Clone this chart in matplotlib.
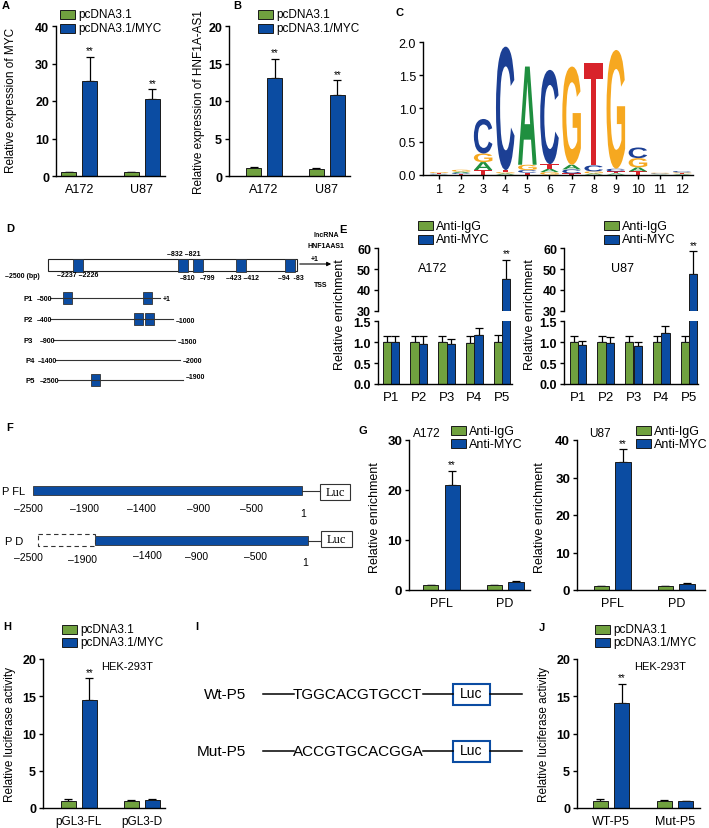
import matplotlib
matplotlib.use('Agg')
import matplotlib.pyplot as plt
import matplotlib.transforms as mtransforms
import numpy as np
from matplotlib.patches import Rectangle, PathPatch
from matplotlib.textpath import TextPath
from matplotlib.font_manager import FontProperties

plt.rcParams['font.family'] = ['Liberation Sans', 'DejaVu Sans']

W, H = 709, 829
GREEN = '#70a13f'
BLUE = '#0b4ca2'

# ---- data ----
cells = ['A172', 'U87']
myc_ctrl = [1.0, 1.0]
myc_ctrl_err = [0.15, 0.12]
myc_oe = [25.3, 20.6]
myc_oe_err = [6.5, 2.5]

hnf_ctrl = [1.05, 1.0]
hnf_ctrl_err = [0.15, 0.12]
hnf_oe = [13.1, 10.8]
hnf_oe_err = [2.55, 2.0]

logo_pos = list(range(1, 13))
logo_A = [0.005, 0.02, 0.12, 0.02, 1.48, 0.05, 0.07, 0.02, 0.02, 0.06, 0.005, 0.01]
logo_C = [0.01, 0.015, 0.52, 1.86, 0.04, 1.42, 0.06, 0.09, 0.04, 0.16, 0.01, 0.02]
logo_G = [0.015, 0.03, 0.13, 0.02, 0.08, 0.04, 1.48, 0.03, 1.79, 0.14, 0.01, 0.015]
logo_T = [0.01, 0.01, 0.07, 0.03, 0.03, 0.07, 0.02, 1.55, 0.03, 0.05, 0.005, 0.01]

promoters = ['P1', 'P2', 'P3', 'P4', 'P5']
a172_igg = [1.0, 1.0, 1.0, 0.98, 1.0]
a172_igg_err = [0.14, 0.16, 0.14, 0.16, 0.18]
a172_myc = [1.0, 0.96, 0.95, 1.18, 45.2]
a172_myc_err = [0.15, 0.18, 0.13, 0.17, 9.2]
u87_igg = [1.0, 1.0, 1.0, 1.0, 1.0]
u87_igg_err = [0.14, 0.14, 0.14, 0.14, 0.14]
u87_myc = [0.93, 0.98, 0.91, 1.23, 47.6]
u87_myc_err = [0.11, 0.14, 0.1, 0.15, 10.9]

constructs = ['PFL', 'PD']
g_a172_igg = [1.0, 1.0]
g_a172_igg_err = [0.1, 0.08]
g_a172_myc = [21.1, 1.6]
g_a172_myc_err = [2.8, 0.15]
g_u87_igg = [1.0, 1.0]
g_u87_igg_err = [0.12, 0.1]
g_u87_myc = [34.2, 1.6]
g_u87_myc_err = [3.4, 0.2]

reporters_h = ['pGL3-FL', 'pGL3-D']
h_ctrl = [1.0, 1.0]
h_ctrl_err = [0.2, 0.08]
h_myc = [14.5, 1.1]
h_myc_err = [2.9, 0.12]

reporters_j = ['WT-P5', 'Mut-P5']
j_ctrl = [1.0, 1.0]
j_ctrl_err = [0.15, 0.08]
j_myc = [14.05, 0.9]
j_myc_err = [2.6, 0.06]

fig = plt.figure(figsize=(W / 100, H / 100), dpi=100)


def px_axes(x0, y0, x1, y1):
    # pixel box, y measured from the top
    return fig.add_axes([x0 / W, 1 - y1 / H, (x1 - x0) / W, (y1 - y0) / H])


def style(ax, bottom=True):
    for s in ['top', 'right']:
        ax.spines[s].set_visible(False)
    ax.spines['left'].set_linewidth(1.0)
    ax.spines['bottom'].set_linewidth(1.0)
    if not bottom:
        ax.spines['bottom'].set_visible(False)
    ax.tick_params(axis='y', direction='out', length=3, width=1.0, pad=2)
    ax.tick_params(axis='x', length=0, pad=5)
    ax.patch.set_visible(False)


def bars(ax, cats, g, ge, b, be, xlim, ylim, yticks, ylabels=None, width=0.24, off=0.168,
         stars=(), tick_fs=9, cat_fs=9, show_x=True):
    x = np.arange(len(cats))
    n = len(cats)
    ax.bar(x - off, g, width, color=GREEN, edgecolor='#1a1a1a', lw=0.7, zorder=2)
    ax.bar(x + off, b, width, color=BLUE, edgecolor='#1a1a1a', lw=0.7, zorder=2)
    ax.errorbar(x - off, g, yerr=[np.zeros(n), ge], fmt='none', ecolor='black',
                elinewidth=0.9, capsize=3, capthick=0.9, zorder=1)
    ax.errorbar(x + off, b, yerr=[np.zeros(n), be], fmt='none', ecolor='black',
                elinewidth=0.9, capsize=3, capthick=0.9, zorder=1)
    for i in stars:
        ax.annotate('**', (x[i] + off, b[i] + be[i]), xytext=(0, 1), textcoords='offset points',
                    ha='center', va='bottom', fontsize=7)
    ax.set_xlim(*xlim)
    ax.set_ylim(*ylim)
    ax.set_yticks(yticks)
    ax.set_yticklabels(ylabels if ylabels else [str(t) for t in yticks], fontsize=tick_fs,
                       fontweight='bold')
    if show_x:
        ax.set_xticks(x)
        ax.set_xticklabels(cats, fontsize=cat_fs)
    else:
        ax.set_xticks([])


ov = fig.add_axes([0, 0, 1, 1], zorder=10)
ov.set_xlim(0, W)
ov.set_ylim(H, 0)
ov.axis('off')


def txt(x, y, s, fs=8, **kw):
    ov.text(x, y, s, fontsize=fs, va='center', **kw)


def legend(x, y, labels, dy=14, fs=8.5):
    for k, (lab, col) in enumerate(zip(labels, [GREEN, BLUE])):
        ov.add_patch(Rectangle((x, y + k * dy - 4.5), 15, 9, facecolor=col, edgecolor='#1a1a1a', lw=0.7))
        txt(x + 18, y + k * dy, lab, fs=fs)


def ylab(x, y, s, fs=8.5):
    ov.text(x, y, s, fontsize=fs, rotation=90, ha='center', va='center')


# panel letters
for lab, x, y in [('A', 6, 6), ('B', 237, 6), ('C', 400, 13), ('D', 10, 229), ('E', 343, 230),
                  ('F', 10, 428), ('G', 363, 431), ('H', 7, 627), ('I', 197, 627), ('J', 542, 628)]:
    txt(x, y, lab, fs=8, fontweight='bold', ha='center')

# ---- A ----
ax = px_axes(56, 27, 165, 177)
style(ax)
bars(ax, cells, myc_ctrl, myc_ctrl_err, myc_oe, myc_oe_err, (-0.37, 1.37), (0, 40),
     [0, 10, 20, 30, 40], stars=[0, 1])
legend(60, 15, ['pcDNA3.1', 'pcDNA3.1/MYC'])
ylab(11, 100, 'Relative expression of MYC')

# ---- B ----
ax = px_axes(229, 27, 350, 177)
style(ax)
bars(ax, cells, hnf_ctrl, hnf_ctrl_err, hnf_oe, hnf_oe_err, (-0.56, 1.37), (0, 20),
     [0, 5, 10, 15, 20], stars=[0, 1])
legend(258, 15, ['pcDNA3.1', 'pcDNA3.1/MYC'])
ylab(199, 102, 'Relative expression of HNF1A-AS1')

# ---- C sequence logo ----
ax = px_axes(423, 43, 693, 175.7)
style(ax)
ax.tick_params(axis='x', direction='out', length=3, width=1.0, pad=3)
ax.set_xlim(0.28, 12.49)
ax.set_ylim(0, 2.0)
ax.set_xticks(logo_pos)
ax.set_xticklabels([str(p) for p in logo_pos], fontsize=9)
ax.set_yticks([0, 0.5, 1.0, 1.5, 2.0])
ax.set_yticklabels(['0.0', '0.5', '1.0', '1.5', '2.0'], fontsize=9)
logo_font = FontProperties(family='Liberation Sans', weight='bold')
logo_cols = {'A': '#1f8f3f', 'C': '#1c3f94', 'G': '#f6a820', 'T': '#d8232a'}


def draw_letter(ch, x, y0, h, w=0.84):
    tp = TextPath((0, 0), ch, size=1, prop=logo_font)
    bb = tp.get_extents()
    tr = (mtransforms.Affine2D().translate(-bb.x0, -bb.y0)
          .scale(w / bb.width, h / bb.height).translate(x - w / 2, y0))
    ax.add_patch(PathPatch(tr.transform_path(tp), facecolor=logo_cols[ch], edgecolor='none'))


for i, p in enumerate(logo_pos):
    stack = sorted([('A', logo_A[i]), ('C', logo_C[i]), ('G', logo_G[i]), ('T', logo_T[i])],
                   key=lambda t: t[1])
    y0 = 0
    for ch, h in stack:
        draw_letter(ch, p, y0, h)
        y0 += h

# ---- D schematic ----
ov.add_patch(Rectangle((48, 260), 249, 12, facecolor='white', edgecolor='#222', lw=0.8))
for bx in [73, 178, 193, 236, 285]:
    ov.add_patch(Rectangle((bx, 259.5), 9.5, 13, facecolor=BLUE, edgecolor='#333', lw=0.6))
ov.annotate('', xy=(334, 265), xytext=(297, 265),
            arrowprops=dict(arrowstyle='-|>', lw=0.8, color='black', mutation_scale=6))
fs_d = 5
for s, x, y in [('–2500 (bp)', 5, 276), ('–2237 –2226', 57, 275), ('–832 –821', 167, 254),
                ('–810', 180, 278), ('–799', 200, 278), ('–423 –412', 226, 278), ('–94  -83', 278, 278),
                ('lncRNA', 313, 235), ('HNF1AAS1', 308, 246), ('+1', 311, 259), ('TSS', 314, 285)]:
    txt(x, y, s, fs=fs_d, fontweight='bold')

rows = [('P1', 299, 50, 160, '–500', '+1', [63, 143]),
        ('P2', 320, 50, 173, '–400', '–1000', [134, 145]),
        ('P3', 341, 53, 175, '–900', '–1500', []),
        ('P4', 361, 56, 180, '–1400', '–2000', []),
        ('P5', 381, 58, 183, '–2500', '–1900', [91])]
for name, y, xa, xb, left, right, boxes in rows:
    txt(24 if name < 'P4' else 26, y, name, fs=5.5, fontweight='bold')
    txt(xa - 13 if len(left) < 5 else xa - 18, y, left, fs=fs_d, fontweight='bold')
    ov.plot([xa, xb], [y, y], color='#333', lw=0.8)
    txt(xb + 3, y - (4 if name == 'P5' else 0) + (1 if name in ('P2', 'P3') else 0), right, fs=fs_d,
        fontweight='bold')
    for bx in boxes:
        ov.add_patch(Rectangle((bx, y - 6), 9, 12, facecolor=BLUE, edgecolor='#333', lw=0.6))

# ---- E ChIP with broken axis ----
for (x0, x1, igg, igge, myc, myce, xl, cell, cx, lx, lgx) in [
        (378, 512, a172_igg, a172_igg_err, a172_myc, a172_myc_err, (-0.46, 4.35), 'A172', 433, 340, 418),
        (564, 698, u87_igg, u87_igg_err, u87_myc, u87_myc_err, (-0.5, 4.32), 'U87', 623, 530, 604)]:
    up = px_axes(x0, 249.3, x1, 311.7)
    style(up, bottom=False)
    bars(up, promoters, igg, igge, myc, myce, xl, (30, 60), [30, 40, 50, 60], width=0.295, off=0.148,
         stars=[4], show_x=False, tick_fs=9)
    lo = px_axes(x0, 322.3, x1, 385)
    style(lo)
    bars(lo, promoters, igg, igge, myc, myce, xl, (0, 1.5), [0, 0.5, 1.0, 1.5],
         ylabels=['0.0', '0.5', '1.0', '1.5'], width=0.295, off=0.148, tick_fs=9, cat_fs=9.5)
    legend(lgx, 226.7, ['Anti-IgG', 'Anti-MYC'], dy=13.3, fs=9)
    txt(cx, 269, cell, fs=9, ha='center')
    ylab(lx, 315, 'Relative enrichment', fs=9)

# ---- F constructs ----
txt(2, 492, 'P FL', fs=8)
ov.add_patch(Rectangle((33, 487), 269, 9, facecolor=BLUE, edgecolor='#333', lw=0.6))
ov.plot([302, 320], [492, 492], color='#333', lw=0.8)
ov.add_patch(Rectangle((320, 485), 30, 16, facecolor='white', edgecolor='#333', lw=0.8))
ov.text(335, 493, 'Luc', fontsize=9, family='Liberation Serif', ha='center', va='center')
for s, x in [('–2500', 28), ('–1900', 84), ('–1400', 141), ('–900', 199), ('–500', 251)]:
    txt(x, 509, s, fs=7.5, ha='center')
txt(303, 514, '1', fs=7.5, ha='center')

txt(5, 542, 'P D', fs=8)
ov.add_patch(Rectangle((38, 535), 57, 12, facecolor='none', edgecolor='#333', lw=0.8,
                       linestyle=(0, (4, 3))))
ov.add_patch(Rectangle((95, 537), 213, 9, facecolor=BLUE, edgecolor='#333', lw=0.6))
ov.plot([308, 321], [542, 542], color='#333', lw=0.8)
ov.add_patch(Rectangle((321, 532), 31, 16, facecolor='white', edgecolor='#333', lw=0.8))
ov.text(336.5, 540, 'Luc', fontsize=9, family='Liberation Serif', ha='center', va='center')
for s, x, y in [('–2500', 28, 558), ('–1900', 83, 560), ('–1400', 147, 556), ('–900', 197, 557),
                ('–500', 255, 557)]:
    txt(x, y, s, fs=7.5, ha='center')
txt(305, 563, '1', fs=7.5, ha='center')

# ---- G ----
ax = px_axes(409, 441, 530, 591)
style(ax)
bars(ax, constructs, g_a172_igg, g_a172_igg_err, g_a172_myc, g_a172_myc_err, (-0.51, 1.39), (0, 30),
     [0, 10, 20, 30], stars=[0], tick_fs=9.5)
legend(451, 431.7, ['Anti-IgG', 'Anti-MYC'], dy=12.8, fs=9)
txt(427, 434, 'A172', fs=8.5, ha='center')
ylab(375, 518, 'Relative enrichment', fs=9)

ax = px_axes(577, 441, 705, 591)
style(ax)
bars(ax, constructs, g_u87_igg, g_u87_igg_err, g_u87_myc, g_u87_myc_err, (-0.55, 1.45), (0, 40),
     [0, 10, 20, 30, 40], stars=[0], tick_fs=9.5)
legend(636, 431.7, ['Anti-IgG', 'Anti-MYC'], dy=12.8, fs=9)
txt(600, 434, 'U87', fs=8.5, ha='center')
ylab(540, 518, 'Relative enrichment', fs=9)

# ---- H ----
ax = px_axes(43, 660, 165, 809)
style(ax)
bars(ax, reporters_h, h_ctrl, h_ctrl_err, h_myc, h_myc_err, (-0.57, 1.37), (0, 20),
     [0, 5, 10, 15, 20], stars=[0], cat_fs=8.5)
legend(62, 630, ['pcDNA3.1', 'pcDNA3.1/MYC'], dy=13)
txt(127, 667, 'HEK-293T', fs=8, ha='center')
ylab(10, 735, 'Relative luciferase activity')

# ---- I ----
for lab, seq, y in [('Wt-P5', 'TGGCACGTGCCT', 695), ('Mut-P5', 'ACCGTGCACGGA', 752)]:
    txt(246, y, lab, fs=11, ha='right')
    ov.plot([263, 294], [y, y], color='black', lw=1.1)
    txt(293, y, seq, fs=11, ha='left')
    ov.plot([423, 453], [y, y], color='black', lw=1.1)
    ov.add_patch(Rectangle((453, y - 10), 37, 21, facecolor='white', edgecolor=BLUE, lw=1.5))
    ov.text(471.5, y - 1, 'Luc', fontsize=10, ha='center', va='center')
    ov.plot([490, 522], [y, y], color='black', lw=1.1)

# ---- J ----
ax = px_axes(577, 660, 700, 809)
style(ax)
bars(ax, reporters_j, j_ctrl, j_ctrl_err, j_myc, j_myc_err, (-0.53, 1.39), (0, 20),
     [0, 5, 10, 15, 20], stars=[0], cat_fs=9)
legend(595, 630, ['pcDNA3.1', 'pcDNA3.1/MYC'], dy=13)
txt(660, 667, 'HEK-293T', fs=8, ha='center')
ylab(544, 735, 'Relative luciferase activity')

fig.savefig('out.png', dpi=100)
